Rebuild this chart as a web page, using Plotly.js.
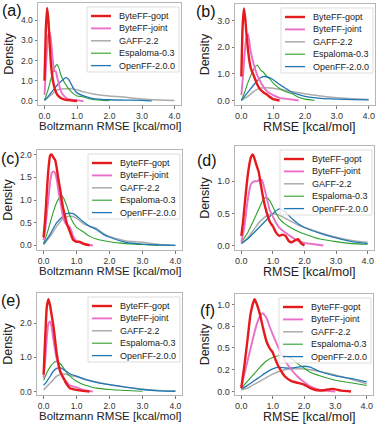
<!DOCTYPE html>
<html>
<head>
<meta charset="utf-8">
<script src="https://cdn.plot.ly/plotly-3.0.1.min.js"></script>
<style>
html, body {margin:0; padding:0; background:#fff;}
#plot {width:378px; height:425px;}
</style>
</head>
<body>
<div id="plot"></div>
<script>
// series, in legend order
let names = ['ByteFF-gopt', 'ByteFF-joint', 'GAFF-2.2', 'Espaloma-0.3', 'OpenFF-2.0.0'];
let panelLabels = ['(a)', '(b)', '(c)', '(d)', '(e)', '(f)'];
let xTitles = ['Boltzmann RMSE [kcal/mol]', 'RMSE [kcal/mol]', 'Boltzmann RMSE [kcal/mol]',
               'RMSE [kcal/mol]', 'Boltzmann RMSE [kcal/mol]', 'RMSE [kcal/mol]'];

let xTickVals = [0, 1, 2, 3, 4];
let xTickText = ['0.0', '1.0', '2.0', '3.0', '4.0'];
let yTickVals = [[0, 1, 2, 3, 4], [0, 1, 2, 3], [0, 0.5, 1, 1.5, 2], [0, 0.5, 1], [0, 1, 2], [0, 0.25, 0.5, 0.75, 1]];
let yTickText = [['0.0', '1.0', '2.0', '3.0', '4.0'], ['0.0', '1.0', '2.0', '3.0'],
                 ['0.0', '0.5', '1.0', '1.5', '2.0'], ['0.0', '0.5', '1.0'],
                 ['0.0', '1.0', '2.0'], ['0.0', '0.2', '0.5', '0.8', '1.0']];

// (a) conformer Boltzmann RMSE
let aX = [
  [0, 0.04, 0.08, 0.12, 0.16, 0.2, 0.25, 0.3, 0.35, 0.4, 0.5, 0.6, 0.8, 1.0],
  [0, 0.05, 0.1, 0.15, 0.2, 0.25, 0.3, 0.35, 0.4, 0.5, 0.6, 0.7, 0.8, 1.0, 1.2],
  [0, 0.2, 0.4, 0.6, 0.8, 1.0, 1.2, 1.5, 2.0, 2.5, 3.0, 3.5, 4.0],
  [0, 0.1, 0.2, 0.3, 0.38, 0.45, 0.5, 0.6, 0.7, 0.8, 0.9, 1.0, 1.2, 1.4, 1.6, 2.0],
  [0, 0.1, 0.2, 0.3, 0.4, 0.5, 0.6, 0.67, 0.75, 0.8, 0.9, 1.0, 1.2, 1.5, 2.0, 2.5, 3.0, 3.3]
];
let aY = [
  [1.0, 3.5, 4.6, 4.0, 2.8, 1.8, 1.1, 0.7, 0.45, 0.3, 0.15, 0.08, 0.03, 0],
  [0.3, 1.8, 3.1, 3.45, 3.0, 2.1, 1.5, 1.45, 1.1, 0.5, 0.25, 0.12, 0.07, 0.03, 0],
  [0.02, 0.3, 0.55, 0.6, 0.6, 0.55, 0.45, 0.35, 0.25, 0.18, 0.1, 0.05, 0.02],
  [0.05, 0.5, 1.1, 1.6, 1.8, 1.6, 1.3, 0.95, 0.7, 0.5, 0.35, 0.25, 0.2, 0.1, 0.05, 0.01],
  [0.03, 0.2, 0.4, 0.6, 0.8, 0.95, 1.1, 1.15, 1.05, 0.9, 0.6, 0.4, 0.25, 0.12, 0.06, 0.04, 0.03, 0]
];

// (b)
let bX = [
  [0, 0.04, 0.08, 0.12, 0.16, 0.2, 0.25, 0.3, 0.4, 0.5, 0.6, 0.7, 0.8, 1.0, 1.2],
  [0, 0.05, 0.1, 0.15, 0.21, 0.25, 0.3, 0.4, 0.5, 0.6, 0.7, 0.8, 1.0, 1.2, 1.5, 1.8],
  [0, 0.2, 0.4, 0.6, 0.8, 1.0, 1.2, 1.5, 2.0, 2.5, 3.0, 3.5, 4.0],
  [0, 0.1, 0.2, 0.3, 0.4, 0.5, 0.6, 0.7, 0.8, 0.9, 1.0, 1.2, 1.4, 1.6, 1.8, 2.0, 2.3],
  [0, 0.2, 0.4, 0.6, 0.72, 0.9, 1.0, 1.2, 1.4, 1.6, 1.8, 2.0, 2.5, 3.0, 3.5, 4.0]
];
let bY = [
  [0.9, 2.8, 3.45, 3.1, 2.5, 2.0, 1.5, 1.2, 0.9, 0.6, 0.4, 0.3, 0.22, 0.05, 0],
  [0.2, 0.9, 1.7, 2.3, 2.5, 2.2, 1.8, 1.3, 0.95, 0.7, 0.5, 0.35, 0.2, 0.1, 0.05, 0],
  [0, 0.15, 0.35, 0.47, 0.48, 0.46, 0.42, 0.35, 0.25, 0.17, 0.1, 0.06, 0.04],
  [0, 0.3, 0.65, 0.95, 1.2, 1.33, 1.15, 1.05, 0.9, 0.8, 0.65, 0.45, 0.33, 0.25, 0.12, 0.05, 0],
  [0, 0.3, 0.6, 0.85, 0.9, 0.85, 0.78, 0.6, 0.45, 0.3, 0.22, 0.15, 0.08, 0.05, 0.03, 0.02]
];

// (c)
let cX = [
  [0, 0.05, 0.1, 0.15, 0.2, 0.25, 0.3, 0.35, 0.4, 0.45, 0.5, 0.55, 0.6, 0.7, 0.8, 0.9, 1.0, 1.1, 1.2, 1.4],
  [0, 0.05, 0.1, 0.15, 0.2, 0.25, 0.3, 0.35, 0.4, 0.45, 0.5, 0.6, 0.7, 0.8, 0.9, 1.0, 1.1, 1.3, 1.5],
  [0, 0.2, 0.4, 0.6, 0.8, 1.0, 1.2, 1.4, 1.6, 1.8, 2.0, 2.5, 3.0, 3.5, 4.0],
  [0, 0.1, 0.2, 0.3, 0.4, 0.5, 0.55, 0.6, 0.7, 0.8, 0.9, 1.0, 1.2, 1.4, 1.6, 2.0, 2.5, 3.0, 3.5],
  [0, 0.2, 0.4, 0.6, 0.7, 0.8, 0.9, 1.0, 1.2, 1.4, 1.6, 1.8, 2.0, 2.5, 3.0, 3.5, 4.0]
];
let cY = [
  [0.18, 0.6, 1.2, 1.7, 1.98, 2.0, 1.93, 1.88, 1.7, 1.45, 1.25, 1.0, 0.8, 0.5, 0.3, 0.12, 0.08, 0.08, 0.04, 0],
  [0.12, 0.35, 0.7, 1.05, 1.4, 1.6, 1.63, 1.6, 1.45, 1.2, 1.0, 0.6, 0.45, 0.4, 0.2, 0.1, 0.06, 0.02, 0],
  [0.02, 0.2, 0.42, 0.6, 0.65, 0.6, 0.48, 0.42, 0.38, 0.27, 0.2, 0.1, 0.07, 0.02, 0],
  [0.05, 0.25, 0.5, 0.75, 0.95, 1.07, 1.09, 1.05, 0.88, 0.65, 0.5, 0.4, 0.3, 0.2, 0.14, 0.08, 0.04, 0.02, 0],
  [0.03, 0.25, 0.5, 0.65, 0.7, 0.71, 0.7, 0.65, 0.52, 0.42, 0.35, 0.25, 0.18, 0.07, 0.03, 0.01, 0]
];

// (d)
let dX = [
  [0, 0.05, 0.1, 0.15, 0.2, 0.25, 0.3, 0.36, 0.4, 0.45, 0.5, 0.55, 0.6, 0.7, 0.8, 0.9, 1.0, 1.1, 1.2, 1.3, 1.4, 1.5, 1.6, 1.7, 1.8, 1.9, 2.0],
  [0, 0.1, 0.2, 0.3, 0.4, 0.5, 0.6, 0.65, 0.7, 0.8, 0.9, 1.0, 1.1, 1.2, 1.4, 1.6, 1.8, 2.0, 2.3, 2.6],
  [0, 0.2, 0.4, 0.6, 0.8, 1.0, 1.2, 1.4, 1.6, 1.8, 2.0, 2.5, 3.0, 3.5, 4.0],
  [0, 0.2, 0.4, 0.6, 0.7, 0.8, 0.9, 1.0, 1.2, 1.4, 1.6, 1.8, 2.0, 2.5, 3.0, 3.5, 4.0],
  [0, 0.2, 0.4, 0.6, 0.8, 1.0, 1.2, 1.4, 1.6, 1.8, 2.0, 2.5, 3.0, 3.5, 4.0]
];
let dY = [
  [0.15, 0.35, 0.6, 0.85, 1.08, 1.25, 1.37, 1.42, 1.38, 1.3, 1.22, 1.15, 1.0, 0.72, 0.52, 0.37, 0.3, 0.2, 0.15, 0.17, 0.15, 0.07, 0.05, 0.08, 0.1, 0.03, 0],
  [0.05, 0.3, 0.7, 0.95, 1.0, 1.0, 1.03, 1.02, 0.95, 0.75, 0.55, 0.45, 0.35, 0.28, 0.2, 0.13, 0.07, 0.04, 0.02, 0],
  [0.03, 0.12, 0.25, 0.38, 0.46, 0.49, 0.47, 0.42, 0.37, 0.32, 0.28, 0.2, 0.13, 0.08, 0.05],
  [0.05, 0.2, 0.4, 0.62, 0.72, 0.75, 0.7, 0.6, 0.42, 0.33, 0.27, 0.22, 0.18, 0.1, 0.06, 0.03, 0.02],
  [0.03, 0.1, 0.2, 0.3, 0.4, 0.5, 0.57, 0.52, 0.42, 0.34, 0.28, 0.19, 0.12, 0.06, 0.03]
];

// (e)
let eX = [
  [0, 0.05, 0.1, 0.15, 0.2, 0.25, 0.3, 0.35, 0.4, 0.5, 0.6, 0.7, 0.8, 1.0, 1.2, 1.4],
  [0, 0.05, 0.1, 0.15, 0.2, 0.25, 0.3, 0.35, 0.4, 0.5, 0.6, 0.7, 0.8, 1.0, 1.2, 1.5],
  [0, 0.2, 0.4, 0.5, 0.6, 0.8, 1.0, 1.2, 1.5, 2.0, 2.5, 3.0, 3.5, 4.0],
  [0, 0.1, 0.2, 0.3, 0.4, 0.5, 0.6, 0.7, 0.8, 1.0, 1.2, 1.4, 1.6, 2.0, 2.5, 3.0],
  [0, 0.1, 0.2, 0.3, 0.4, 0.5, 0.6, 0.8, 1.0, 1.2, 1.4, 1.6, 1.8, 2.0, 2.5, 3.0, 3.5, 4.0]
];
let eY = [
  [0.5, 1.6, 2.5, 2.7, 2.5, 2.2, 1.9, 1.5, 1.1, 0.6, 0.4, 0.22, 0.1, 0.05, 0.02, 0],
  [0.4, 0.9, 1.6, 2.0, 2.05, 1.85, 1.5, 1.2, 0.95, 0.6, 0.4, 0.28, 0.18, 0.12, 0.05, 0],
  [0.05, 0.25, 0.45, 0.5, 0.51, 0.48, 0.43, 0.37, 0.3, 0.2, 0.13, 0.07, 0.03, 0.01],
  [0.33, 0.55, 0.72, 0.84, 0.88, 0.82, 0.7, 0.55, 0.45, 0.3, 0.21, 0.15, 0.1, 0.06, 0.03, 0.01],
  [0.18, 0.3, 0.45, 0.6, 0.68, 0.7, 0.65, 0.52, 0.45, 0.38, 0.32, 0.27, 0.23, 0.2, 0.13, 0.06, 0.02, 0.01]
];

// (f)
let fX = [
  [0, 0.1, 0.2, 0.3, 0.42, 0.5, 0.6, 0.7, 0.8, 0.9, 1.0, 1.1, 1.2, 1.4, 1.6, 1.8, 2.0, 2.2, 2.5, 2.9, 3.2, 3.5],
  [0, 0.1, 0.2, 0.3, 0.4, 0.5, 0.6, 0.68, 0.8, 0.9, 1.0, 1.2, 1.4, 1.6, 1.8, 2.0, 2.2, 2.5, 3.0],
  [0, 0.2, 0.4, 0.6, 0.8, 1.0, 1.2, 1.4, 1.6, 1.8, 2.0, 2.2, 2.5, 3.0, 3.5, 4.0],
  [0, 0.2, 0.4, 0.6, 0.8, 1.0, 1.2, 1.4, 1.6, 1.8, 2.0, 2.2, 2.5, 3.0, 3.5, 4.0],
  [0, 0.2, 0.4, 0.6, 0.8, 1.0, 1.2, 1.4, 1.6, 1.8, 2.0, 2.2, 2.5, 3.0, 3.5, 4.0]
];
let fY = [
  [0.04, 0.3, 0.6, 0.9, 1.06, 1.0, 0.88, 0.72, 0.58, 0.5, 0.45, 0.36, 0.28, 0.17, 0.12, 0.1, 0.08, 0.04, 0.01, 0.03, 0.01, 0],
  [0.05, 0.2, 0.35, 0.5, 0.65, 0.78, 0.87, 0.9, 0.85, 0.75, 0.66, 0.49, 0.35, 0.25, 0.17, 0.11, 0.06, 0.02, 0],
  [0.02, 0.04, 0.08, 0.12, 0.16, 0.2, 0.23, 0.25, 0.26, 0.26, 0.26, 0.25, 0.23, 0.19, 0.14, 0.09],
  [0.04, 0.12, 0.2, 0.28, 0.35, 0.39, 0.41, 0.41, 0.38, 0.32, 0.27, 0.22, 0.18, 0.13, 0.1, 0.07],
  [0.03, 0.07, 0.12, 0.17, 0.22, 0.26, 0.28, 0.27, 0.27, 0.28, 0.29, 0.28, 0.23, 0.18, 0.15, 0.11]
];

let allX = [aX, bX, cX, dX, eX, fX];
let allY = [aY, bY, cY, dY, eY, fY];

// styling (not data)
let colors = ['#e41a1c', '#ea6fc8', '#ababab', '#2ca02c', '#1f77b4'];
let widths = [2.4, 1.9, 1.5, 1.1, 1.3];
let drawOrder = [2, 3, 4, 1, 0];

// frame boxes in pixels [left, top, right, bottom]
let W = 378, H = 425;
let frames = [[38, 3, 181, 105], [235, 4, 375, 105], [37, 150, 182, 250],
              [235, 146, 374, 250], [37, 293, 182, 395], [235, 294, 373, 395]];
let yRanges = [[-0.2, 4.85], [-0.17, 3.62], [-0.1, 2.1], [-0.07, 1.55], [-0.1, 2.88], [-0.04, 1.12]];
let labelPos = [[12, 11], [206, 12], [10, 158], [207, 160], [11, 300], [207, 310]];
// x title centres [x, y] in pixels
let xTitlePos = [[110, 126], [309, 127], [110, 271], [309, 272], [110, 416], [309, 417]];

let font = 'Liberation Sans, Arial, sans-serif';
let data = [];
let layout = {
  width: W, height: H,
  margin: {l: 0, r: 0, t: 0, b: 0},
  paper_bgcolor: '#fff', plot_bgcolor: '#fff',
  showlegend: false,
  font: {family: font, color: '#222'},
  shapes: [], annotations: []
};

function px(x) { return x / W; }
function py(y) { return 1 - y / H; }

for (let p = 0; p < 6; p++) {
  let f = frames[p];
  let right = p % 2 == 1;
  let sfx = p == 0 ? '' : String(p + 1);

  for (let k of drawOrder) {
    data.push({
      x: allX[p][k], y: allY[p][k],
      type: 'scatter', mode: 'lines',
      name: names[k],
      xaxis: 'x' + sfx, yaxis: 'y' + sfx,
      line: {color: colors[k], width: widths[k], shape: 'spline', smoothing: 0.5},
      hoverinfo: 'skip'
    });
  }

  let tickFont = {size: right ? 9 : 8.5, color: '#333'};
  let common = {
    showline: true, mirror: true, linecolor: '#b5b5b5', linewidth: 1,
    showgrid: false, zeroline: false,
    ticks: 'outside', ticklen: 2.5, tickwidth: 0.8, tickcolor: '#555',
    tickfont: tickFont
  };
  layout['xaxis' + sfx] = Object.assign({}, common, {
    domain: [px(f[0]), px(f[2])],
    anchor: 'y' + sfx,
    range: [-0.2, 4.2],
    tickvals: xTickVals, ticktext: xTickText
  });
  layout['yaxis' + sfx] = Object.assign({}, common, {
    domain: [py(f[3]), py(f[1])],
    anchor: 'x' + sfx,
    range: yRanges[p],
    tickvals: yTickVals[p], ticktext: yTickText[p],
    title: {text: 'Density', font: {size: 12.5, color: '#222'}, standoff: 4}
  });

  // x axis title
  layout.annotations.push({
    text: xTitles[p], xref: 'paper', yref: 'paper',
    x: px(xTitlePos[p][0]), y: py(xTitlePos[p][1]),
    xanchor: 'center', yanchor: 'middle', showarrow: false,
    font: {size: right ? 12.5 : 11.5, color: '#222'}
  });

  // panel label
  layout.annotations.push({
    text: panelLabels[p], xref: 'paper', yref: 'paper',
    x: px(labelPos[p][0]), y: py(labelPos[p][1]),
    xanchor: 'center', yanchor: 'middle', showarrow: false,
    font: {size: 16, color: '#111'}
  });

  // legend box, drawn like a matplotlib legend
  let bl = f[2] - 94, br = f[2] - 2, bt = f[1] + 4, bb = bt + 65;
  layout.shapes.push({
    type: 'rect', xref: 'paper', yref: 'paper',
    x0: px(bl), x1: px(br), y0: py(bb), y1: py(bt),
    line: {color: '#d4d4d4', width: 0.8}, fillcolor: 'rgba(255,255,255,0.8)'
  });
  for (let k = 0; k < names.length; k++) {
    let yy = bt + 9 + k * 12.4;
    layout.shapes.push({
      type: 'line', xref: 'paper', yref: 'paper',
      x0: px(bl + 4), x1: px(bl + 24), y0: py(yy), y1: py(yy),
      line: {color: colors[k], width: widths[k]}
    });
    layout.annotations.push({
      text: names[k], xref: 'paper', yref: 'paper',
      x: px(bl + 30), y: py(yy), xanchor: 'left', yanchor: 'middle',
      showarrow: false, font: {size: 9, color: '#222'}
    });
  }
}

Plotly.newPlot('plot', data, layout, {staticPlot: true});
</script>
</body>
</html>
